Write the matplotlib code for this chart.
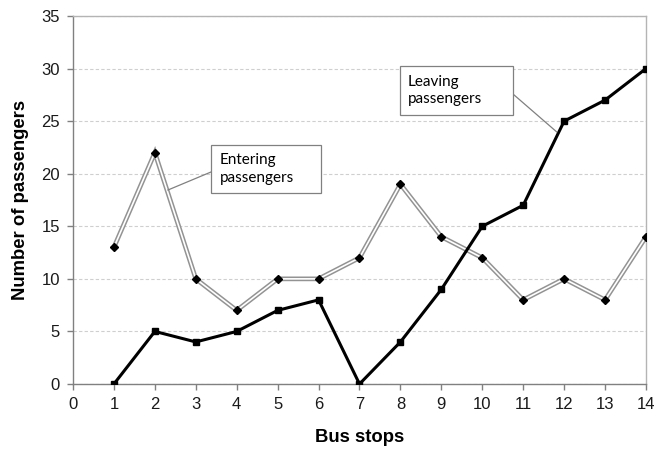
import matplotlib
matplotlib.use("Agg")
import matplotlib.pyplot as plt
from matplotlib.patches import Rectangle

stops = list(range(1, 15))
entering = [13, 22, 10, 7, 10, 10, 12, 19, 14, 12, 8, 10, 8, 14]
leaving = [0, 5, 4, 5, 7, 8, 0, 4, 9, 15, 17, 25, 27, 30]
x_ticks = list(range(0, 15))
y_ticks = list(range(0, 36, 5))

plt.rcParams['font.family'] = ['Liberation Sans', 'DejaVu Sans']

fig = plt.figure(figsize=(6.57, 4.5), dpi=100)
ax = fig.add_axes([73 / 657, 66 / 450, (646 - 73) / 657, (384 - 16) / 450])

# Entering passengers: hollow gray double line with diamond markers
ax.plot(stops, entering, color='#939393', lw=3.4, solid_joinstyle='miter', zorder=3)
ax.plot(stops, entering, color='white', lw=1.2, solid_joinstyle='miter', zorder=4)
ax.plot(stops, entering, ls='none', marker='D', ms=4, color='black', zorder=5)

# Leaving passengers: solid black line with square markers
ax.plot(stops, leaving, color='black', lw=2.2, marker='s', ms=4.5, zorder=6)

ax.set_xlim(0, 14)
ax.set_ylim(0, 35)
ax.set_xticks(x_ticks)
ax.set_yticks(y_ticks)
ax.tick_params(axis='both', labelsize=12, colors='#808080', labelcolor='#1a1a1a',
               length=4.5, width=1, direction='out', pad=5)
ax.yaxis.grid(True, color='#cfcfcf', ls=(0, (3, 2)), lw=0.8)
ax.set_axisbelow(True)
for s in ('top', 'right'):
    ax.spines[s].set_color('#b4b4b4')
    ax.spines[s].set_linewidth(1)
for s in ('left', 'bottom'):
    ax.spines[s].set_color('#808080')
    ax.spines[s].set_linewidth(1)

ax.set_xlabel('Bus stops', fontsize=13.3, fontweight='bold', labelpad=12)
ax.set_ylabel('Number of passengers', fontsize=13.3, fontweight='bold', labelpad=9)

# Callout boxes with leader lines
callout_font = ['Lato', 'DejaVu Sans']
lead = dict(color='#808080', lw=0.9, zorder=7)

ax.add_patch(Rectangle((3.37, 18.17), 6.06 - 3.37, 22.73 - 18.17,
                       fc='white', ec='#808080', lw=0.9, zorder=8))
ax.plot([3.37, 2.32], [20.16, 18.45], **lead)
ax.text(3.59, 20.45, 'Entering\npassengers', fontsize=11, family=callout_font,
        ha='left', va='center', linespacing=1.3, zorder=9)

ax.add_patch(Rectangle((7.99, 25.58), 10.75 - 7.99, 30.25 - 25.58,
                       fc='white', ec='#808080', lw=0.9, zorder=8))
ax.plot([10.75, 11.82], [27.58, 23.97], **lead)
ax.text(8.18, 27.9, 'Leaving\npassengers', fontsize=11, family=callout_font,
        ha='left', va='center', linespacing=1.3, zorder=9)

fig.savefig('out.png', dpi=100)
